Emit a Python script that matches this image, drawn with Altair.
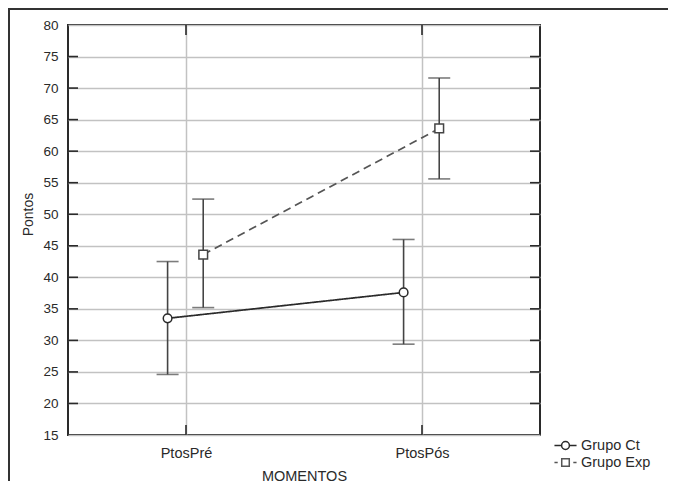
import altair as alt
import pandas as pd

momentos = ["PtosPré", "PtosPós"]
grupos = ["Grupo Ct", "Grupo Ct", "Grupo Exp", "Grupo Exp"]
momento_obs = ["PtosPré", "PtosPós", "PtosPré", "PtosPós"]
medias = [33.5, 37.6, 43.6, 63.6]
inferior = [24.6, 29.4, 35.2, 55.6]
superior = [42.5, 46.0, 52.4, 71.6]
y_ticks = [15, 20, 25, 30, 35, 40, 45, 50, 55, 60, 65, 70, 75, 80]

df = pd.DataFrame({
    "grupo": grupos,
    "momento": momento_obs,
    "media": medias,
    "lo": inferior,
    "hi": superior,
})
ticks_df = pd.DataFrame({"v": y_ticks[1:-1]})
cat_df = pd.DataFrame({"c": [0, 1]})

FONT = "Liberation Sans"
DARK = "#2a2a2a"
GRAY = "#555555"
GROUPS = ["Grupo Ct", "Grupo Exp"]

xscale = alt.Scale(domain=[-0.5, 1.5], nice=False, zero=False)
yscale = alt.Scale(domain=[15, 80], nice=False, zero=False)

xaxis = alt.Axis(
    values=[0, 1],
    labelExpr="datum.value == 0 ? 'PtosPré' : 'PtosPós'",
    grid=True, gridColor="#c2c2c2", gridWidth=1.5,
    tickSize=0, domain=False, labelPadding=11,
    labelFont=FONT, labelFontSize=14.5, labelColor=DARK,
    title="MOMENTOS", titleFont=FONT, titleFontSize=14.5,
    titleFontWeight="normal", titleColor=DARK, titlePadding=10,
)
yaxis = alt.Axis(
    values=y_ticks, labelOverlap=False,
    grid=True, gridColor="#c2c2c2", gridWidth=1.5,
    tickSize=0, domain=False, labelPadding=10,
    labelFont=FONT, labelFontSize=13.5, labelColor=DARK,
    title="Pontos", titleFont=FONT, titleFontSize=14,
    titleFontWeight="normal", titleColor=DARK, titlePadding=7, titleY=189,
)


def XA(f):
    return alt.X(f, scale=xscale, axis=xaxis)


def YA(f):
    return alt.Y(f, scale=yscale, axis=yaxis)


base = alt.Chart(df).transform_calculate(
    xpos="(datum.momento == 'PtosPré' ? 0 : 1) + (datum.grupo == 'Grupo Ct' ? -0.078 : 0.073)"
)

lines = base.mark_line(strokeWidth=1.7).encode(
    x=XA("xpos:Q"), y=YA("media:Q"),
    detail="grupo:N",
    color=alt.Color("grupo:N", scale=alt.Scale(domain=GROUPS, range=[DARK, GRAY]), legend=None),
    strokeDash=alt.StrokeDash("grupo:N", scale=alt.Scale(domain=GROUPS, range=[[1, 0], [8, 5]]), legend=None),
)

bars = base.mark_rule(strokeWidth=1.6, color="#444444").encode(
    x=XA("xpos:Q"), y=YA("lo:Q"), y2="hi:Q"
)
cap_lo = base.mark_tick(orient="horizontal", size=22, thickness=1.6, color="#444444").encode(
    x=XA("xpos:Q"), y=YA("lo:Q")
)
cap_hi = base.mark_tick(orient="horizontal", size=22, thickness=1.6, color="#444444").encode(
    x=XA("xpos:Q"), y=YA("hi:Q")
)

points = base.mark_point(filled=True, fill="white", strokeWidth=1.5, opacity=1).encode(
    x=XA("xpos:Q"),
    y=YA("media:Q"),
    shape=alt.Shape("grupo:N", scale=alt.Scale(domain=GROUPS, range=["circle", "square"]), legend=None),
    stroke=alt.Stroke("grupo:N", scale=alt.Scale(domain=GROUPS, range=[DARK, "#444444"]), legend=None),
    size=alt.value(75),
)

# legend-only layer (no rows drawn, entries come from the fixed domain)
ct_path = "M-1.7,0L-0.6,0M0.6,0L1.7,0M-0.6,0A0.6,0.6,0,1,0,0.6,0A0.6,0.6,0,1,0,-0.6,0Z"
exp_path = "M-1.7,0L-1.2,0M1.2,0L1.7,0M-0.58,-0.58L0.58,-0.58L0.58,0.58L-0.58,0.58Z"
legend = alt.Legend(
    title=None, orient="none", legendX=490, legendY=413,
    labelFont=FONT, labelFontSize=14.5, labelColor=DARK,
    symbolSize=169, rowPadding=1, labelOffset=8,
    symbolFillColor="white", symbolStrokeWidth=1.5, symbolOpacity=1,
)
leg_layer = base.transform_filter("false").mark_point(filled=False, strokeWidth=1.5).encode(
    x=XA("xpos:Q"),
    y=YA("media:Q"),
    shape=alt.Shape("grupo:N", scale=alt.Scale(domain=GROUPS, range=[ct_path, exp_path]), legend=legend),
    stroke=alt.Stroke("grupo:N", scale=alt.Scale(domain=GROUPS, range=[DARK, GRAY]), legend=legend),
)

# inward tick marks on the frame
yt_left = alt.Chart(ticks_df).mark_rule(color=DARK, strokeWidth=1.6).encode(
    y=YA("v:Q"), x=alt.value(0), x2=alt.value(10)
)
yt_right = alt.Chart(ticks_df).mark_rule(color=DARK, strokeWidth=1.6).encode(
    y=YA("v:Q"), x=alt.value(462), x2=alt.value(472)
)
xt_top = alt.Chart(cat_df).mark_rule(color=DARK, strokeWidth=1.6).encode(
    x=XA("c:Q"), y=alt.value(0), y2=alt.value(10)
)
xt_bot = alt.Chart(cat_df).mark_rule(color=DARK, strokeWidth=1.6).encode(
    x=XA("c:Q"), y=alt.value(400), y2=alt.value(410)
)

# outer image frame (top and left)
frame_top = alt.Chart(cat_df).mark_rule(color="#333333", strokeWidth=2, clip=False).encode(
    x=alt.value(-60), x2=alt.value(600), y=alt.value(-16)
)
frame_left = alt.Chart(cat_df).mark_rule(color="#333333", strokeWidth=2, clip=False).encode(
    x=alt.value(-59), y=alt.value(-16), y2=alt.value(460)
)

chart = alt.layer(
    lines, bars, cap_lo, cap_hi, yt_left, yt_right, xt_top, xt_bot, points, leg_layer, frame_top, frame_left
).resolve_scale(
    color="independent", stroke="independent", shape="independent"
).properties(
    width=472, height=410,
    autosize=alt.AutoSizeParams(type="none"),
    padding={"left": 60, "top": 17, "right": 128, "bottom": 46},
    background="white",
).configure_view(
    stroke=DARK, strokeWidth=2
)

chart.save("out.html", embed_options={"renderer": "svg", "actions": False})
